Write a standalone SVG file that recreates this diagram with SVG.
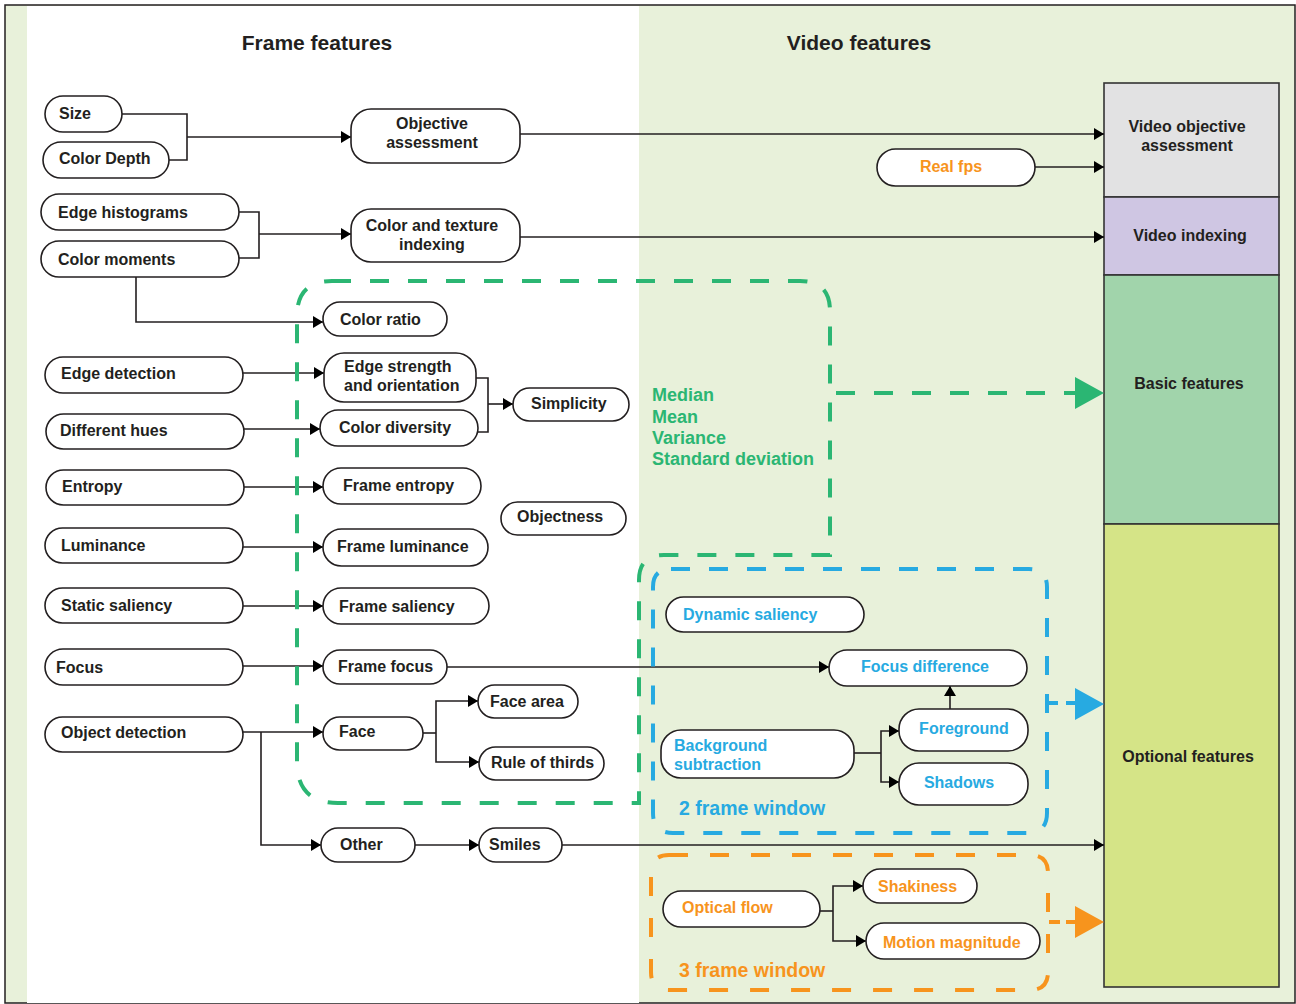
<svg xmlns="http://www.w3.org/2000/svg" width="1296" height="1004" viewBox="0 0 1296 1004">
<style>
.node rect{fill:#fff;stroke:#231f20;stroke-width:1.6}
.t{font-family:"Liberation Sans",Arial,sans-serif;font-size:16px;font-weight:bold;fill:#231f20}
.m{text-anchor:middle}
.blue{fill:#27aae1}
.orange{fill:#f7941d}
.green{fill:#2bb673}
.c{fill:none;stroke:#231f20;stroke-width:1.6}
.ca{fill:none;stroke:#231f20;stroke-width:1.6;marker-end:url(#ah)}
.h{font-family:"Liberation Sans",Arial,sans-serif;font-size:21px;font-weight:bold;fill:#231f20;text-anchor:middle}
.dg{fill:none;stroke:#2bb673;stroke-width:4;stroke-dasharray:19 19}
.db{fill:none;stroke:#27aae1;stroke-width:4;stroke-dasharray:19 19}
.do{fill:none;stroke:#f7941d;stroke-width:4;stroke-dasharray:19 22}
.col{stroke:#333;stroke-width:1.6}
</style>
<defs>
<marker id="ah" markerWidth="10" markerHeight="12" refX="10" refY="6" orient="auto" markerUnits="userSpaceOnUse">
<path d="M0,0 L10,6 L0,12 z" fill="#000"/>
</marker>
</defs>

<g id="background">
<rect x="0" y="0" width="1296" height="1004" fill="#ffffff"/>
<rect x="5" y="5" width="1290" height="998" fill="#e8f1da" stroke="#231f20" stroke-width="1.5"/>
<rect x="27" y="6" width="612" height="997" fill="#ffffff"/>
<text class="h" x="317" y="50">Frame features</text>
<text class="h" x="859" y="50">Video features</text>
</g>

<g id="output-column">
<rect class="col" x="1104" y="83" width="175" height="114" fill="#e2e2e3"/>
<rect class="col" x="1104" y="197" width="175" height="78" fill="#cfc6e3"/>
<rect class="col" x="1104" y="275" width="175" height="249" fill="#a1d4ab"/>
<rect class="col" x="1104" y="524" width="175" height="463" fill="#d5e487"/>
<text class="t m" x="1187" y="132">Video objective</text>
<text class="t m" x="1187" y="151">assessment</text>
<text class="t m" x="1190" y="241">Video indexing</text>
<text class="t m" x="1189" y="389">Basic features</text>
<text class="t m" x="1188" y="762">Optional features</text>
</g>

<g id="connectors">
<path class="c" d="M122,114 H187 V160 H169"/>
<path class="ca" d="M187,137 H351"/>
<path class="ca" d="M520,134 H1104"/>
<path class="ca" d="M1035,167 H1104"/>
<path class="c" d="M239,212 H259 V258 H239"/>
<path class="ca" d="M259,234 H351"/>
<path class="ca" d="M520,237 H1104"/>
<path class="ca" d="M136,277 V322 H323"/>
<path class="ca" d="M243,373 H324"/>
<path class="ca" d="M244,429 H320"/>
<path class="c" d="M476,378 H488 V432 H478"/>
<path class="ca" d="M488,404 H513"/>
<path class="ca" d="M244,487 H323"/>
<path class="ca" d="M243,547 H323"/>
<path class="ca" d="M243,606 H323"/>
<path class="ca" d="M243,666 H323"/>
<path class="ca" d="M447,667 H829"/>
<path class="ca" d="M243,732 H323"/>
<path class="ca" d="M261,732 V845 H321"/>
<path class="c" d="M423,733 H436"/>
<path class="ca" d="M436,733 V701 H478"/>
<path class="ca" d="M436,733 V762 H479"/>
<path class="ca" d="M415,845 H479"/>
<path class="ca" d="M562,845 H1104"/>
<path class="ca" d="M950,709 V686"/>
<path class="c" d="M854,753 H881"/>
<path class="ca" d="M881,753 V731 H899"/>
<path class="ca" d="M881,753 V782 H899"/>
<path class="c" d="M820,911 H833"/>
<path class="ca" d="M833,911 V886 H863"/>
<path class="ca" d="M833,911 V941 H866"/>
<path class="dg" d="M836,393 H1075"/>
<polygon points="1075,377 1104,393 1075,409" fill="#2bb673"/>
<path class="db" d="M1047,703 H1058 M1066,703 H1076"/>
<polygon points="1075,688 1104,704 1075,720" fill="#27aae1"/>
<path class="do" d="M1049,922 H1060 M1066,922 H1076"/>
<polygon points="1075,906 1104,922 1075,938" fill="#f7941d"/>
</g>

<g id="regions">
<path class="dg" d="M332,281 H800 Q830,281 830,311 V555 H664 Q639,555 639,580 V803 H338 Q297,803 297,762 V316 Q297,281 332,281 Z"/>
<path class="db" d="M671,569 H1029 Q1047,569 1047,587 V813 Q1047,833 1027,833 H673 Q653,833 653,813 V587 Q653,569 671,569 Z"/>
<path class="do" d="M669,855 H1030 Q1048,855 1048,873 V972 Q1048,990 1030,990 H669 Q651,990 651,972 V873 Q651,855 669,855 Z"/>
<text class="t green" style="font-size:18px" x="652" y="401">Median</text>
<text class="t green" style="font-size:18px" x="652" y="423">Mean</text>
<text class="t green" style="font-size:18px" x="652" y="444">Variance</text>
<text class="t green" style="font-size:18px" x="652" y="465">Standard deviation</text>
<text class="t blue" style="font-size:19.5px" x="679" y="815">2 frame window</text>
<text class="t orange" style="font-size:19.5px" x="679" y="977">3 frame window</text>
</g>

<g id="n-size" class="node"><rect x="45" y="96" width="77" height="36" rx="18"/><text class="t" x="59" y="119">Size</text></g>
<g id="n-colordepth" class="node"><rect x="43" y="142" width="126" height="36" rx="18"/><text class="t" x="59" y="164">Color Depth</text></g>
<g id="n-edgehist" class="node"><rect x="41" y="194" width="198" height="36" rx="18"/><text class="t" x="58" y="218">Edge histograms</text></g>
<g id="n-colormom" class="node"><rect x="41" y="241" width="198" height="36" rx="18"/><text class="t" x="58" y="265">Color moments</text></g>
<g id="n-objassess" class="node"><rect x="351" y="109" width="169" height="54" rx="20"/><text class="t m" x="432" y="129">Objective</text><text class="t m" x="432" y="148">assessment</text></g>
<g id="n-colortex" class="node"><rect x="351" y="209" width="169" height="53" rx="20"/><text class="t m" x="432" y="231">Color and texture</text><text class="t m" x="432" y="250">indexing</text></g>
<g id="n-colorratio" class="node"><rect x="323" y="302" width="124" height="34" rx="17"/><text class="t" x="340" y="325">Color ratio</text></g>
<g id="n-edgedet" class="node"><rect x="45" y="357" width="198" height="36" rx="18"/><text class="t" x="61" y="379">Edge detection</text></g>
<g id="n-diffhues" class="node"><rect x="46" y="414" width="198" height="35" rx="17.5"/><text class="t" x="60" y="436">Different hues</text></g>
<g id="n-entropy" class="node"><rect x="46" y="470" width="198" height="35" rx="17.5"/><text class="t" x="62" y="492">Entropy</text></g>
<g id="n-luminance" class="node"><rect x="45" y="528" width="198" height="35" rx="17.5"/><text class="t" x="61" y="551">Luminance</text></g>
<g id="n-staticsal" class="node"><rect x="45" y="588" width="198" height="35" rx="17.5"/><text class="t" x="61" y="611">Static saliency</text></g>
<g id="n-focus" class="node"><rect x="45" y="649" width="198" height="36" rx="18"/><text class="t" x="56" y="673">Focus</text></g>
<g id="n-objdet" class="node"><rect x="45" y="717" width="198" height="35" rx="17.5"/><text class="t" x="61" y="738">Object detection</text></g>
<g id="n-edgestr" class="node"><rect x="324" y="353" width="152" height="49" rx="20"/><text class="t" x="344" y="372">Edge strength</text><text class="t" x="344" y="391">and orientation</text></g>
<g id="n-colordiv" class="node"><rect x="320" y="410" width="158" height="36" rx="18"/><text class="t" x="339" y="433">Color diversity</text></g>
<g id="n-simplicity" class="node"><rect x="513" y="388" width="116" height="33" rx="16.5"/><text class="t" x="531" y="409">Simplicity</text></g>
<g id="n-frameentropy" class="node"><rect x="323" y="468" width="158" height="36" rx="18"/><text class="t" x="343" y="491">Frame entropy</text></g>
<g id="n-objectness" class="node"><rect x="501" y="502" width="125" height="33" rx="16.5"/><text class="t" x="517" y="522">Objectness</text></g>
<g id="n-framelum" class="node"><rect x="323" y="529" width="165" height="37" rx="18.5"/><text class="t" x="337" y="552">Frame luminance</text></g>
<g id="n-framesal" class="node"><rect x="323" y="588" width="166" height="36" rx="18"/><text class="t" x="339" y="612">Frame saliency</text></g>
<g id="n-framefocus" class="node"><rect x="323" y="650" width="124" height="34" rx="17"/><text class="t" x="338" y="672">Frame focus</text></g>
<g id="n-face" class="node"><rect x="323" y="717" width="100" height="33" rx="16.5"/><text class="t" x="339" y="737">Face</text></g>
<g id="n-facearea" class="node"><rect x="478" y="685" width="100" height="33" rx="16.5"/><text class="t" x="490" y="707">Face area</text></g>
<g id="n-rulethirds" class="node"><rect x="479" y="747" width="125" height="33" rx="16.5"/><text class="t" x="491" y="768">Rule of thirds</text></g>
<g id="n-other" class="node"><rect x="321" y="828" width="94" height="34" rx="17"/><text class="t" x="340" y="850">Other</text></g>
<g id="n-smiles" class="node"><rect x="479" y="828" width="83" height="34" rx="17"/><text class="t" x="489" y="850">Smiles</text></g>
<g id="n-realfps" class="node"><rect x="877" y="149" width="158" height="37" rx="18.5"/><text class="t m orange" x="951" y="172">Real fps</text></g>
<g id="n-dynsal" class="node"><rect x="666" y="597" width="198" height="35" rx="17.5"/><text class="t blue" x="683" y="620">Dynamic saliency</text></g>
<g id="n-focusdiff" class="node"><rect x="829" y="650" width="198" height="36" rx="18"/><text class="t m blue" x="925" y="672">Focus difference</text></g>
<g id="n-foreground" class="node"><rect x="899" y="709" width="129" height="42" rx="20"/><text class="t m blue" x="964" y="734">Foreground</text></g>
<g id="n-bgsub" class="node"><rect x="661" y="730" width="193" height="48" rx="20"/><text class="t blue" x="674" y="751">Background</text><text class="t blue" x="674" y="770">subtraction</text></g>
<g id="n-shadows" class="node"><rect x="899" y="763" width="129" height="42" rx="20"/><text class="t m blue" x="959" y="788">Shadows</text></g>
<g id="n-opticalflow" class="node"><rect x="663" y="891" width="157" height="36" rx="18"/><text class="t orange" x="682" y="913">Optical flow</text></g>
<g id="n-shakiness" class="node"><rect x="863" y="869" width="114" height="34" rx="17"/><text class="t orange" x="878" y="892">Shakiness</text></g>
<g id="n-motionmag" class="node"><rect x="866" y="923" width="174" height="36" rx="18"/><text class="t orange" x="883" y="948">Motion magnitude</text></g>
</svg>
